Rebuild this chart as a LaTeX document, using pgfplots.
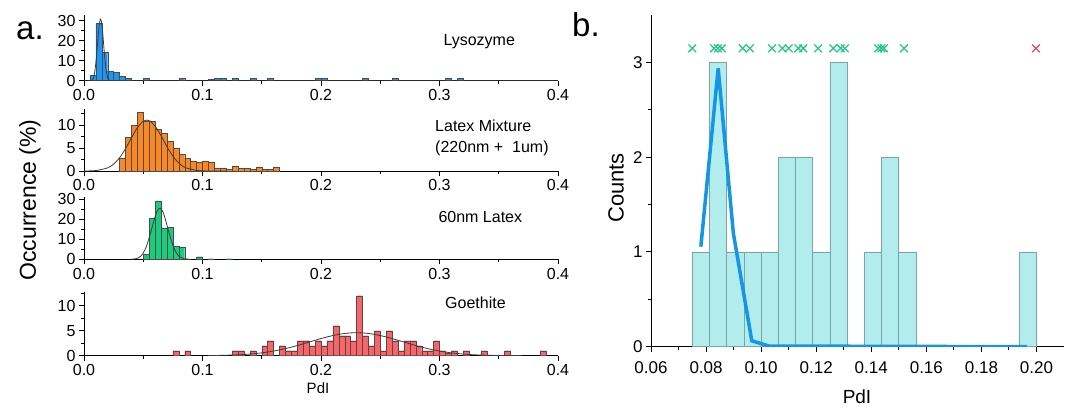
\documentclass[border=0pt]{standalone}
\usepackage{pgfplots}
\pgfplotsset{compat=1.18}
\usepackage{fontspec}
\setmainfont{Liberation Sans}

\definecolor{lyso}{RGB}{30,150,245}
\definecolor{latmix}{RGB}{250,135,35}
\definecolor{lat60}{RGB}{25,205,125}
\definecolor{goe}{RGB}{250,100,105}
\definecolor{fitc}{RGB}{60,60,60}
\definecolor{binb}{RGB}{178,236,236}
\definecolor{binedge}{RGB}{120,165,165}
\definecolor{curveb}{RGB}{20,150,230}
\definecolor{xgreen}{RGB}{40,200,140}
\definecolor{xred}{RGB}{230,70,90}

\pgfplotsset{
  common/.style={
    scale only axis, anchor=south west,
    axis x line*=bottom, axis y line*=left,
    axis line style={line width=1pt, -},
    tick align=outside, major tick length=5pt, minor tick length=3pt,
    every tick/.style={line width=1pt, black},
    scaled x ticks=false,
    /pgf/number format/assume math mode=true,
  },
  panelA/.style={
    common, width=474pt, xmin=0, xmax=0.4, ymin=0,
    xtick={0,0.1,0.2,0.3,0.4}, minor xtick={0.05,0.15,0.25,0.35},
    xticklabel style={/pgf/number format/fixed, /pgf/number format/fixed zerofill, /pgf/number format/precision=1},
    ticklabel style={font=\fontsize{16}{16}\selectfont},
  },
  bars/.style={ybar, bar width=0.005, draw=black!70, line width=0.4pt, fill=#1},
  fit/.style={smooth, draw=fitc, line width=0.8pt, no marks},
}

\begin{document}
\begin{tikzpicture}
\useasboundingbox (0pt,0pt) rectangle (1070pt,408pt);

% Lysozyme
\begin{axis}[panelA, at={(84pt,327.3pt)}, height=66pt, ymax=33,
  ytick={0,10,20,30}, minor ytick={5,15,25}]
\addplot[bars=lyso] coordinates {
  (0.0075,2.7) (0.0125,28.7) (0.0175,14.1) (0.0225,4.8) (0.0275,4.1) (0.0325,2.0) (0.0375,1.1)
  (0.0525,1) (0.0825,1) (0.1075,0.8) (0.1125,1) (0.1175,1) (0.1275,1) (0.1425,1) (0.1575,1)
  (0.1975,1) (0.2025,1) (0.2375,1) (0.2625,1) (0.3075,1) (0.3175,1)
};
\addplot[fit] coordinates {
  (0,0) (0.0045,0.02) (0.0075,0.61) (0.009,4.2) (0.0105,11.6) (0.0115,18.8) (0.0125,25.9)
  (0.0135,30.2) (0.014,30.8) (0.0145,30.2) (0.0155,25.9) (0.0165,18.8) (0.0175,11.6)
  (0.019,4.2) (0.0205,0.61) (0.0235,0.02) (0.03,0) (0.4,0)
};
\end{axis}

% Latex mixture
\begin{axis}[panelA, at={(84pt,237pt)}, height=62pt, ymax=13.5,
  ytick={0,5,10}, minor ytick={2.5,7.5,12.5}]
\addplot[bars=latmix] coordinates {
  (0.0325,2.8) (0.0375,7.3) (0.0425,10.0) (0.0475,12.7) (0.0525,10.9) (0.0575,10.8)
  (0.0625,9.1) (0.0675,8.2) (0.0725,6.4) (0.0775,5.0) (0.0825,3.6) (0.0875,2.8)
  (0.0925,2.2) (0.0975,1.9) (0.1025,2.2) (0.1075,2.0) (0.1125,0.7) (0.1175,0.7)
  (0.1225,0.35) (0.1275,1.1) (0.1325,0.6) (0.1375,0.6) (0.1425,0.3) (0.1475,0.9)
  (0.1525,0.3) (0.1575,0.4) (0.1625,0.8)
};
\addplot[fit] coordinates {
  (0,0.01) (0.01,0.1) (0.02,0.69) (0.025,1.5) (0.03,2.88) (0.035,4.86) (0.04,7.2)
  (0.045,9.4) (0.05,10.85) (0.053,11.1) (0.056,10.85) (0.061,9.4) (0.066,7.2)
  (0.071,4.86) (0.076,2.88) (0.081,1.5) (0.086,0.69) (0.096,0.1) (0.106,0.01) (0.12,0)
};
\end{axis}

% 60 nm latex
\begin{axis}[panelA, at={(84pt,148.7pt)}, height=62pt, ymax=31,
  ytick={0,10,20,30}, minor ytick={5,15,25}]
\addplot[bars=lat60] coordinates {
  (0.0525,2.6) (0.0575,20.5) (0.0625,29.2) (0.0675,15.7) (0.0725,15.9) (0.0775,6.7)
  (0.0825,5.9) (0.0875,0.3) (0.0975,1.3) (0.1075,0.3) (0.1225,0.3)
};
\addplot[fit] coordinates {
  (0.04,0.05) (0.044,0.34) (0.048,1.6) (0.052,5.4) (0.056,12.8) (0.06,21.4) (0.062,24.4)
  (0.064,25.5) (0.066,24.4) (0.068,21.4) (0.072,12.8) (0.076,5.4) (0.08,1.6)
  (0.084,0.34) (0.088,0.05)
};
\end{axis}

% Goethite
\begin{axis}[panelA, at={(84pt,52.3pt)}, height=64pt, ymax=12.8,
  ytick={0,5,10}, minor ytick={2.5,7.5,12.5}]
\addplot[bars=goe] coordinates {
  (0.0775,1) (0.0875,1) (0.1275,1) (0.1325,1) (0.1425,1) (0.1525,2) (0.1575,3)
  (0.1675,2) (0.1725,1) (0.1775,1) (0.1825,3) (0.1875,3) (0.1925,2) (0.1975,3)
  (0.2025,2) (0.2075,3) (0.2125,6) (0.2175,4) (0.2225,4) (0.2275,3) (0.2325,12)
  (0.2375,4) (0.2425,2) (0.2475,5) (0.2525,1) (0.2575,5) (0.2625,3) (0.2675,1)
  (0.2725,3) (0.2775,3) (0.2825,2) (0.2875,1) (0.2925,1) (0.2975,3) (0.3025,1)
  (0.3075,0.5) (0.3125,1) (0.3225,1) (0.3375,1) (0.3575,1) (0.3875,1)
};
\addplot[fit] coordinates {
  (0.105,0.03) (0.11,0.04) (0.13,0.175) (0.14,0.33) (0.15,0.57) (0.16,0.93) (0.17,1.42)
  (0.18,2.03) (0.19,2.73) (0.2,3.43) (0.21,4.03) (0.22,4.45) (0.23,4.6) (0.24,4.45)
  (0.25,4.03) (0.26,3.43) (0.27,2.73) (0.28,2.03) (0.29,1.42) (0.3,0.93) (0.31,0.57)
  (0.32,0.33) (0.33,0.175) (0.35,0.04) (0.37,0.01)
};
\end{axis}

% panel b
\begin{axis}[common, at={(651pt,61.3pt)}, width=413pt, height=331.5pt,
  xmin=0.06, xmax=0.21, ymin=0, ymax=3.5,
  xtick={0.06,0.08,0.10,0.12,0.14,0.16,0.18,0.20},
  minor xtick={0.07,0.09,0.11,0.13,0.15,0.17,0.19},
  ytick={0,1,2,3}, minor ytick={0.5,1.5,2.5},
  xticklabel style={/pgf/number format/fixed, /pgf/number format/fixed zerofill, /pgf/number format/precision=2, yshift=-6pt},
  ticklabel style={font=\fontsize{17}{17}\selectfont},
]
\addplot[ybar, bar width=0.00625, fill=binb, draw=binedge, line width=0.8pt] coordinates {
  (0.078125,1) (0.084375,3) (0.090625,1) (0.096875,1) (0.103125,1) (0.109375,2)
  (0.115625,2) (0.121875,1) (0.128125,3) (0.140625,1) (0.146875,2) (0.153125,1)
  (0.196875,1)
};
\addplot[curveb, line width=3.5pt, no marks] coordinates {
  (0.0781,1.056) (0.0844,2.94) (0.0899,1.20) (0.0966,0.063) (0.1028,0.007) (0.1965,0)
};
\addplot[only marks, mark=x, mark size=5.5pt, xgreen, line width=1.3pt] coordinates {
  (0.0750,3.15) (0.0829,3.15) (0.0843,3.15) (0.0857,3.15) (0.0933,3.15) (0.0959,3.15)
  (0.1040,3.15) (0.1077,3.15) (0.1100,3.15) (0.1135,3.15) (0.1153,3.15) (0.1207,3.15)
  (0.1262,3.15) (0.1289,3.15) (0.1304,3.15) (0.1425,3.15) (0.1437,3.15) (0.1446,3.15)
  (0.1519,3.15)
};
\addplot[only marks, mark=x, mark size=5.5pt, xred, line width=1.3pt] coordinates {
  (0.1998,3.15)
};
\end{axis}

% labels
\node[anchor=base, font=\fontsize{33}{33}\selectfont] at (30pt,368pt) {a.};
\node[anchor=base, font=\fontsize{33}{33}\selectfont] at (586pt,371pt) {b.};
\node[rotate=90, font=\fontsize{23}{23}\selectfont] at (30pt,208pt) {Occurrence (\%)};
\node[rotate=90, font=\fontsize{22}{22}\selectfont] at (616pt,220pt) {Counts};
\node[anchor=base, font=\fontsize{15}{15}\selectfont] at (318pt,15pt) {PdI};
\node[anchor=base, font=\fontsize{19}{19}\selectfont] at (857pt,5pt) {PdI};
\node[anchor=base west, font=\fontsize{16}{16}\selectfont] at (440pt,362.3pt) {Lysozyme};
\node[anchor=base west, font=\fontsize{16}{16}\selectfont] at (431.7pt,276.3pt) {Latex Mixture};
\node[anchor=base west, font=\fontsize{16}{16}\selectfont] at (431.7pt,255.7pt) {(220nm +\ \ 1um)};
\node[anchor=base west, font=\fontsize{16}{16}\selectfont] at (435pt,185.3pt) {60nm Latex};
\node[anchor=base west, font=\fontsize{16}{16}\selectfont] at (441.7pt,99.7pt) {Goethite};
\end{tikzpicture}
\end{document}
